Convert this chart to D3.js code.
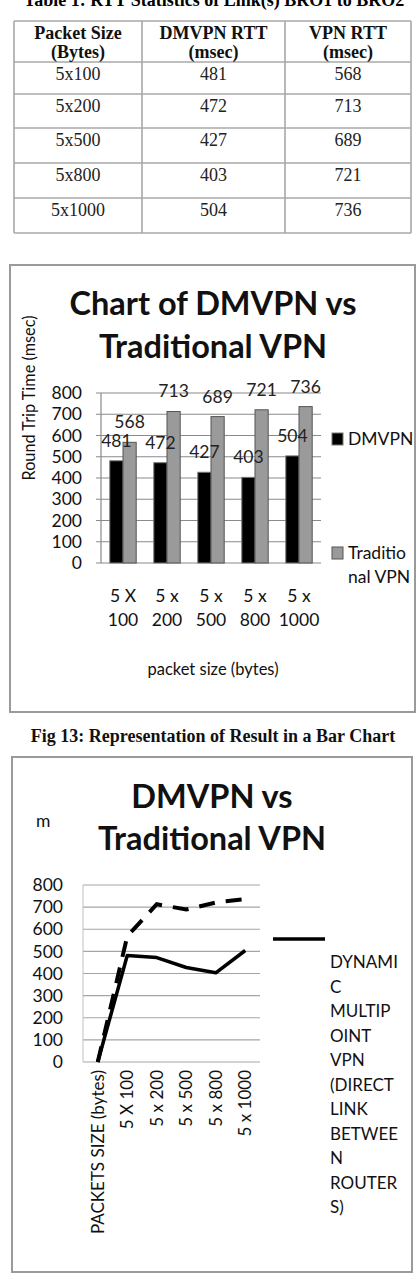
<!DOCTYPE html>
<html>
<head>
<meta charset="utf-8">
<script src="https://cdn.jsdelivr.net/npm/d3@7"></script>
<style>
  body { margin: 0; background: #fff; }
  svg { display: block; }
</style>
</head>
<body>
<div id="page"></div>
<script>
// values
var packetSizes = ["5x100", "5x200", "5x500", "5x800", "5x1000"];
var dmvpnRtt = [481, 472, 427, 403, 504];
var vpnRtt = [568, 713, 689, 721, 736];
var tableHeaders = [["Packet Size", "(Bytes)"], ["DMVPN RTT", "(msec)"], ["VPN RTT", "(msec)"]];

var barCategories = ["5 X 100", "5 x 200", "5 x 500", "5 x 800", "5 x 1000"];
var barSeries = ["DMVPN", "Traditional VPN"];
var yTicks = [0, 100, 200, 300, 400, 500, 600, 700, 800];

var lineCategories = ["PACKETS SIZE (bytes)", "5 X 100", "5 x 200", "5 x 500", "5 x 800", "5 x 1000"];
var lineDmvpn = [0, 481, 472, 427, 403, 504];
var lineVpn = [0, 568, 713, 689, 721, 736];
var lineLegendLines = ["DYNAMI", "C", "MULTIP", "OINT", "VPN", "(DIRECT", "LINK", "BETWEE", "N", "ROUTER", "S)"];

var serif = "'Liberation Serif', 'Times New Roman', serif";
var sans = "Lato, 'Open Sans', sans-serif";

function start(){
    var svg = d3.select("#page").append("svg")
        .attr("width", 417)
        .attr("height", 1287);
    drawTable(svg);
    drawBars(svg);
    drawLines(svg);
}

function drawTable(svg){
    // caption is cut by the top edge in the source page
    svg.append("text")
       .attr("x", 214).attr("y", 6)
       .attr("text-anchor", "middle")
       .style("font-family", serif).style("font-weight", "bold").style("font-size", "18px")
       .text("Table 1: RTT Statistics of Link(s) BRO1 to BRO2");

    var colEdges = [14, 142, 285, 411];
    var rowEdges = [21, 62, 94, 128, 163, 198, 233];
    var g = svg.append("g");

    g.selectAll("line.h").data(rowEdges).enter().append("line")
     .attr("x1", colEdges[0]).attr("x2", colEdges[3])
     .attr("y1", d => d).attr("y2", d => d)
     .style("stroke", "#a8a8a8").style("stroke-width", 1.6);
    g.selectAll("line.v").data(colEdges).enter().append("line")
     .attr("y1", rowEdges[0]).attr("y2", rowEdges[6])
     .attr("x1", d => d).attr("x2", d => d)
     .style("stroke", "#a8a8a8").style("stroke-width", 1.6);

    var colMid = i => (colEdges[i] + colEdges[i + 1]) / 2;

    tableHeaders.forEach(function(h, i){
        h.forEach(function(t, j){
            g.append("text")
             .attr("x", colMid(i)).attr("y", 39 + j * 19)
             .attr("text-anchor", "middle")
             .style("font-family", serif).style("font-weight", "bold").style("font-size", "18px")
             .style("fill", "#111")
             .text(t);
        });
    });

    packetSizes.forEach(function(p, r){
        var vals = [p, dmvpnRtt[r], vpnRtt[r]];
        vals.forEach(function(v, i){
            g.append("text")
             .attr("x", colMid(i)).attr("y", rowEdges[r + 1] + 18)
             .attr("text-anchor", "middle")
             .style("font-family", serif).style("font-size", "18px")
             .style("fill", "#222")
             .text(v);
        });
    });
}

function drawBars(svg){
    var g = svg.append("g");
    g.append("rect")
     .attr("x", 10).attr("y", 265).attr("width", 405).attr("height", 447)
     .style("fill", "#fff").style("stroke", "#9a9a9a").style("stroke-width", 2);

    ["Chart of DMVPN vs", "Traditional VPN"].forEach(function(t, i){
        g.append("text")
         .attr("x", 213).attr("y", 315 + i * 43)
         .attr("text-anchor", "middle")
         .style("font-family", sans).style("font-weight", "bold").style("font-size", "32.5px")
         .style("fill", "#111")
         .text(t);
    });

    var y = d3.scaleLinear().domain([0, 800]).range([563, 393]);
    var x0 = d3.scaleBand().domain(barCategories).range([101, 321]);
    var bw = x0.bandwidth();
    var x1 = d3.scaleBand().domain(barSeries).range([bw * 0.2, bw * 0.8]);

    // grid lines with outside tick marks
    g.selectAll("line.grid").data(yTicks).enter().append("line")
     .attr("x1", 96).attr("x2", 321)
     .attr("y1", d => y(d)).attr("y2", d => y(d))
     .style("stroke", "#8a8a8a").style("stroke-width", 1.2);
    g.append("line")
     .attr("x1", 101).attr("x2", 101).attr("y1", y(800)).attr("y2", y(0))
     .style("stroke", "#8a8a8a").style("stroke-width", 1.2);

    g.selectAll("text.ytick").data(yTicks).enter().append("text")
     .attr("x", 82).attr("y", d => y(d)).attr("dy", "0.35em")
     .attr("text-anchor", "end")
     .style("font-family", sans).style("font-size", "17.5px").style("fill", "#111")
     .text(d => d);

    var rows = barCategories.map((c, i) => ({cat: c, vals: [dmvpnRtt[i], vpnRtt[i]]}));
    var fills = ["#000", "#9a9a9a"];
    var strokes = ["#777", "#555"];

    var grp = g.selectAll("g.grp").data(rows).enter().append("g")
               .attr("transform", d => "translate(" + x0(d.cat) + ",0)");
    grp.selectAll("rect").data(d => d.vals.map((v, k) => ({s: barSeries[k], v: v, k: k})))
       .enter().append("rect")
       .attr("x", d => x1(d.s)).attr("width", x1.bandwidth())
       .attr("y", d => y(d.v)).attr("height", d => y(0) - y(d.v))
       .style("fill", d => fills[d.k]).style("stroke", d => strokes[d.k]).style("stroke-width", 1);
    grp.selectAll("text").data(d => d.vals.map((v, k) => ({s: barSeries[k], v: v})))
       .enter().append("text")
       .attr("x", d => x1(d.s) + x1.bandwidth() / 2)
       .attr("y", d => y(d.v) - 14)
       .attr("text-anchor", "middle")
       .style("font-family", sans).style("font-size", "17.5px").style("fill", "#222")
       .text(d => d.v);

    barCategories.forEach(function(c){
        var cut = c.lastIndexOf(" ");
        [c.slice(0, cut), c.slice(cut + 1)].forEach(function(t, j){
            g.append("text")
             .attr("x", x0(c) + bw / 2).attr("y", 602 + j * 24)
             .attr("text-anchor", "middle")
             .style("font-family", sans).style("font-size", "17.5px").style("fill", "#111")
             .text(t);
        });
    });

    g.append("text")
     .attr("x", 213).attr("y", 675)
     .attr("text-anchor", "middle")
     .style("font-family", sans).style("font-size", "16.5px").style("fill", "#111")
     .text("packet size (bytes)");

    g.append("text")
     .attr("transform", "translate(35,398) rotate(-90)")
     .attr("text-anchor", "middle")
     .style("font-family", sans).style("font-size", "16.3px").style("fill", "#111")
     .text("Round Trip Time (msec)");

    // legend
    var legendRows = [{y: 445, lines: ["DMVPN"]}, {y: 559, lines: ["Traditio", "nal VPN"]}];
    legendRows.forEach(function(r, k){
        g.append("rect")
         .attr("x", 332).attr("y", r.y - 12).attr("width", 11).attr("height", 12)
         .style("fill", fills[k]).style("stroke", strokes[k]).style("stroke-width", 1);
        r.lines.forEach(function(t, j){
            g.append("text")
             .attr("x", 348).attr("y", r.y + j * 24)
             .style("font-family", sans).style("font-size", "17.5px").style("fill", "#111")
             .text(t);
        });
    });

    svg.append("text")
       .attr("x", 213).attr("y", 742)
       .attr("text-anchor", "middle")
       .style("font-family", serif).style("font-weight", "bold").style("font-size", "18px")
       .style("fill", "#111")
       .text("Fig 13: Representation of Result in a Bar Chart");
}

function drawLines(svg){
    var g = svg.append("g");
    g.append("rect")
     .attr("x", 12).attr("y", 757).attr("width", 400).attr("height", 515)
     .style("fill", "#fff").style("stroke", "#9a9a9a").style("stroke-width", 2);

    ["DMVPN vs", "Traditional VPN"].forEach(function(t, i){
        g.append("text")
         .attr("x", 212).attr("y", 808 + i * 42)
         .attr("text-anchor", "middle")
         .style("font-family", sans).style("font-weight", "bold").style("font-size", "32.5px")
         .style("fill", "#111")
         .text(t);
    });

    g.append("text")
     .attr("x", 36).attr("y", 827)
     .style("font-family", sans).style("font-size", "17.5px").style("fill", "#111")
     .text("m");

    var y = d3.scaleLinear().domain([0, 800]).range([1062, 885]);
    var x = d3.scaleBand().domain(lineCategories).range([83, 260]);
    var cx = d => x(d) + x.bandwidth() / 2;

    g.selectAll("line.grid").data(yTicks).enter().append("line")
     .attr("x1", 83).attr("x2", 260)
     .attr("y1", d => y(d)).attr("y2", d => y(d))
     .style("stroke", "#a5a5a5").style("stroke-width", 1.2);
    g.append("line")
     .attr("x1", 83).attr("x2", 83).attr("y1", y(800)).attr("y2", y(0))
     .style("stroke", "#c0c0c0").style("stroke-width", 1);

    g.selectAll("text.ytick").data(yTicks).enter().append("text")
     .attr("x", 63).attr("y", d => y(d)).attr("dy", "0.35em")
     .attr("text-anchor", "end")
     .style("font-family", sans).style("font-size", "17.5px").style("fill", "#111")
     .text(d => d);

    g.selectAll("text.xtick").data(lineCategories).enter().append("text")
     .attr("transform", d => "translate(" + cx(d) + ",1070) rotate(-90)")
     .attr("dy", "0.35em")
     .attr("text-anchor", "end")
     .style("font-family", sans).style("font-size", "17px").style("fill", "#111")
     .text(d => d);

    var line = d3.line()
        .x((d, i) => cx(lineCategories[i]))
        .y(d => y(d));

    g.append("path")
     .attr("d", line(lineVpn))
     .style("fill", "none").style("stroke", "#000").style("stroke-width", 4)
     .style("stroke-dasharray", "16,11");
    g.append("path")
     .attr("d", line(lineDmvpn))
     .style("fill", "none").style("stroke", "#000").style("stroke-width", 3.5)
     .style("stroke-linejoin", "round");

    // legend (only the solid series shows)
    g.append("line")
     .attr("x1", 273).attr("x2", 325).attr("y1", 939).attr("y2", 939)
     .style("stroke", "#000").style("stroke-width", 3.5);
    g.selectAll("text.leg").data(lineLegendLines).enter().append("text")
     .attr("x", 330).attr("y", (d, i) => 968 + i * 24.5)
     .style("font-family", sans).style("font-size", "17px").style("fill", "#111")
     .text(d => d);
}

start()
</script>
</body>
</html>
